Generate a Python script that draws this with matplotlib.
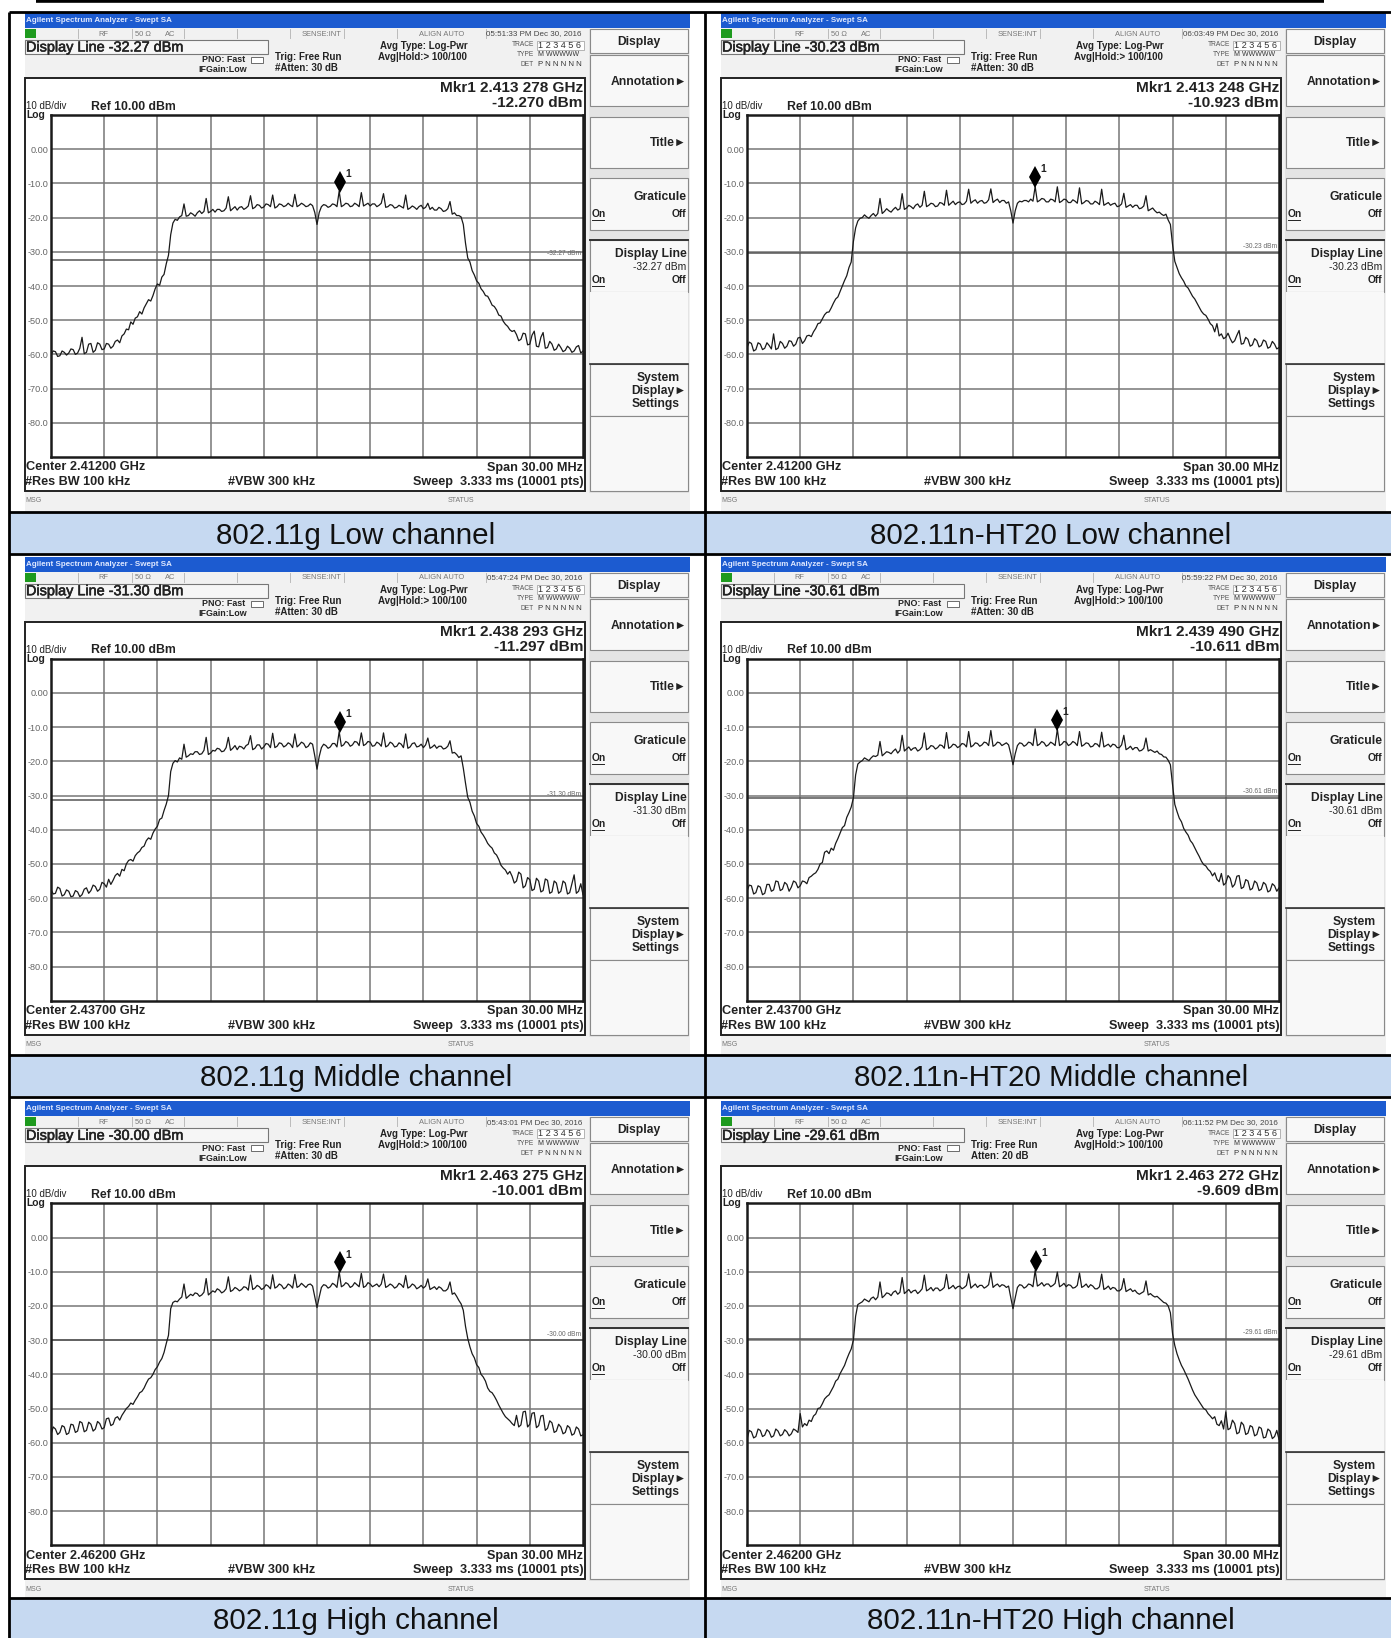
import matplotlib
matplotlib.use('Agg')
import matplotlib.pyplot as plt
import matplotlib.patches as patches
import matplotlib.patheffects as pe
import numpy as np

plt.rcParams['font.family'] = ['Liberation Sans', 'DejaVu Sans']

W, H = 1391, 1638

# six screenshots, order: g low, n low, g mid, n mid, g high, n high
captions = ['802.11g Low channel', '802.11n-HT20 Low channel',
            '802.11g Middle channel', '802.11n-HT20 Middle channel',
            '802.11g High channel', '802.11n-HT20 High channel']
timestamps = ['05:51:33 PM', '06:03:49 PM', '05:47:24 PM', '05:59:22 PM', '05:43:01 PM', '06:11:52 PM']
display_lines = [-32.27, -30.23, -31.30, -30.61, -30.00, -29.61]
center_ghz = [2.412, 2.412, 2.437, 2.437, 2.462, 2.462]
marker_ghz = [2.413278, 2.413248, 2.438293, 2.439490, 2.463275, 2.463272]
marker_dbm = [-12.270, -10.923, -11.297, -10.611, -10.001, -9.609]
attens = ['#Atten: 30 dB', '#Atten: 30 dB', '#Atten: 30 dB', '#Atten: 30 dB', '#Atten: 30 dB', 'Atten: 20 dB']

y_ticks = [0, -10, -20, -30, -40, -50, -60, -70, -80]
y_tick_labels = ['0.00', '-10.0', '-20.0', '-30.0', '-40.0', '-50.0', '-60.0', '-70.0', '-80.0']

# trace readings, one every 0.125 MHz from -15 to +15 MHz off centre
# (each row below covers 1.25 MHz)
offsets_mhz = np.arange(241) * 0.125 - 15

trace_g_low = [
    -60.0, -59.0, -59.2, -60.6, -60.4, -59.0, -59.4, -60.2, -59.6, -58.4,
    -58.6, -60.0, -59.6, -58.2, -55.0, -59.8, -59.4, -57.0, -56.8, -59.4,
    -58.8, -56.6, -57.0, -58.6, -58.4, -56.8, -57.0, -58.2, -57.6, -56.2,
    -55.8, -56.6, -54.6, -54.0, -52.6, -52.8, -50.5, -51.2, -49.4, -49.0,
    -47.5, -48.2, -46.4, -45.2, -44.0, -44.4, -42.8, -40.8, -39.4, -39.8,
    -37.4, -36.6, -33.5, -31.0, -25.0, -21.6, -20.5, -20.8, -19.8, -19.4,
    -16.0, -19.6, -19.4, -18.6, -19.0, -19.6, -18.6, -18.0, -18.8, -18.2,
    -14.4, -18.6, -18.2, -17.6, -18.4, -17.6, -17.6, -18.2, -18.0, -17.2,
    -13.9, -18.0, -17.4, -16.8, -17.8, -17.0, -16.8, -17.6, -17.2, -16.6,
    -13.6, -17.4, -17.0, -16.2, -16.4, -17.2, -16.9, -16.0, -16.2, -16.8,
    -13.4, -17.2, -16.8, -16.0, -16.2, -16.8, -16.5, -15.8, -16.4, -16.8,
    -13.2, -16.8, -16.4, -15.8, -16.2, -16.8, -16.6, -16.0, -16.5, -18.5,
    -22.0, -18.5, -16.8, -16.2, -16.4, -17.0, -16.7, -16.0, -16.2, -16.8,
    -12.27, -16.8, -16.4, -15.8, -16.0, -16.8, -16.6, -15.8, -16.2, -16.8,
    -12.7, -16.6, -16.2, -15.8, -16.6, -16.0, -16.0, -16.8, -16.4, -15.8,
    -13.0, -17.0, -16.8, -16.2, -16.4, -17.2, -17.0, -16.4, -16.8, -17.2,
    -13.4, -17.6, -17.2, -16.6, -17.0, -17.6, -16.8, -16.4, -17.4, -17.0,
    -15.8, -17.6, -17.0, -17.8, -17.8, -17.0, -17.4, -18.2, -18.0, -17.4,
    -15.3, -19.0, -18.6, -19.4, -19.4, -19.8, -22.0, -27.5, -31.8, -33.0,
    -35.5, -36.8, -38.5, -39.2, -40.8, -41.6, -42.8, -43.0, -44.2, -45.6,
    -46.0, -47.0, -48.5, -48.8, -50.3, -51.2, -51.8, -52.8, -53.3, -53.0,
    -54.2, -56.0, -55.6, -53.8, -54.0, -57.2, -57.0, -54.4, -53.2, -57.6,
    -57.8, -55.0, -53.6, -58.2, -58.0, -56.2, -57.0, -58.8, -58.4, -57.0,
    -58.0, -59.2, -58.8, -57.6, -58.2, -59.4, -59.0, -57.8, -57.4, -59.6,
    -59.0]
trace_n_low = [
    -58.0, -56.4, -56.8, -59.0, -58.6, -56.6, -57.0, -58.6, -58.2, -56.6,
    -57.4, -58.4, -54.0, -58.6, -58.2, -56.2, -56.8, -58.2, -57.6, -56.0,
    -56.2, -57.6, -57.0, -55.2, -55.0, -56.8, -56.0, -54.6, -54.4, -54.8,
    -53.4, -52.4, -51.0, -50.8, -49.6, -48.4, -47.7, -47.6, -46.4, -45.0,
    -43.8, -43.2, -41.6, -40.0, -38.4, -37.0, -34.6, -33.0, -27.0, -23.0,
    -21.0, -20.2, -20.0, -19.2, -19.8, -20.2, -19.4, -18.8, -19.6, -18.8,
    -14.4, -18.8, -18.2, -17.4, -18.0, -18.4, -17.6, -17.0, -17.8, -17.4,
    -13.0, -17.6, -17.2, -16.4, -16.8, -17.4, -16.4, -16.0, -17.0, -16.4,
    -12.3, -16.8, -16.4, -15.8, -16.0, -16.8, -16.6, -15.6, -15.8, -16.4,
    -12.0, -16.4, -15.8, -15.2, -16.2, -15.6, -15.4, -16.2, -16.0, -15.2,
    -11.7, -15.8, -15.2, -14.8, -15.8, -15.2, -15.0, -15.8, -15.6, -14.8,
    -11.6, -15.6, -15.0, -14.6, -15.6, -15.0, -15.0, -15.8, -15.4, -18.0,
    -21.6, -18.0, -15.8, -15.2, -15.4, -15.0, -15.0, -15.4, -14.6, -15.2,
    -10.92, -15.4, -15.0, -14.4, -14.6, -15.4, -15.4, -14.6, -14.8, -15.4,
    -11.0, -15.6, -15.2, -14.6, -14.8, -15.6, -15.6, -14.8, -15.2, -15.8,
    -11.3, -16.0, -15.6, -15.0, -15.2, -16.0, -16.0, -15.2, -15.6, -16.2,
    -11.7, -16.4, -16.0, -15.6, -16.4, -16.0, -15.8, -16.8, -16.6, -16.0,
    -12.9, -17.0, -16.6, -16.2, -17.0, -16.4, -16.4, -17.4, -17.2, -16.6,
    -13.6, -18.0, -17.6, -17.2, -18.0, -18.6, -18.4, -19.0, -19.4, -19.0,
    -20.7, -22.0, -28.0, -32.8, -34.6, -36.4, -37.6, -38.6, -40.0, -40.6,
    -41.8, -43.0, -43.8, -45.0, -46.2, -47.4, -48.2, -48.6, -49.7, -51.0,
    -51.6, -53.4, -51.0, -54.6, -54.0, -55.4, -55.0, -53.8, -55.4, -56.6,
    -56.0, -54.4, -53.0, -57.0, -56.8, -55.0, -55.6, -57.6, -57.2, -55.4,
    -56.0, -57.8, -57.4, -55.8, -56.2, -58.2, -57.8, -56.2, -57.0, -58.4,
    -58.0]
trace_g_mid = [
    -57.5, -58.8, -58.6, -56.8, -57.2, -59.4, -59.0, -57.6, -58.0, -59.6,
    -59.4, -57.8, -58.2, -59.6, -59.0, -57.4, -57.0, -58.6, -57.8, -56.2,
    -56.6, -58.0, -57.4, -55.4, -55.8, -56.8, -54.5, -56.0, -54.8, -53.4,
    -52.8, -53.6, -51.6, -52.0, -50.0, -49.0, -48.7, -49.2, -47.6, -46.8,
    -46.3, -45.2, -44.8, -43.2, -42.4, -42.8, -41.0, -39.8, -39.0, -37.0,
    -36.6, -34.4, -32.5, -30.0, -23.0, -20.6, -19.8, -20.2, -19.0, -19.4,
    -15.0, -18.8, -18.4, -17.8, -18.0, -17.2, -17.2, -18.0, -17.8, -16.8,
    -13.0, -18.0, -17.6, -16.8, -17.0, -16.2, -16.4, -17.2, -17.0, -16.0,
    -13.0, -16.8, -16.2, -15.4, -16.6, -15.6, -15.8, -16.4, -15.4, -15.0,
    -12.5, -16.6, -16.2, -15.2, -15.2, -16.4, -15.8, -14.8, -15.0, -16.0,
    -11.8, -16.0, -15.6, -14.6, -14.8, -15.8, -15.4, -14.6, -15.0, -16.0,
    -12.0, -15.8, -15.2, -14.4, -14.8, -16.0, -15.6, -14.6, -15.0, -18.4,
    -22.3, -18.6, -16.0, -15.0, -15.4, -16.2, -15.8, -14.8, -14.8, -15.8,
    -11.3, -15.6, -15.2, -14.2, -14.6, -15.6, -15.2, -14.2, -14.4, -15.4,
    -11.7, -15.4, -15.0, -14.2, -14.4, -15.6, -15.4, -14.4, -14.8, -15.6,
    -11.7, -15.8, -15.4, -14.4, -14.8, -15.8, -15.6, -14.6, -15.0, -16.0,
    -12.0, -16.2, -15.8, -14.8, -14.6, -15.8, -15.6, -15.0, -16.0, -15.2,
    -13.2, -16.2, -15.8, -15.2, -16.2, -15.6, -15.6, -16.4, -16.2, -15.6,
    -14.0, -17.6, -17.4, -18.0, -18.9, -18.4, -22.0, -26.4, -30.5, -32.0,
    -34.6, -36.0, -38.2, -39.0, -40.7, -41.6, -42.7, -44.0, -44.8, -45.4,
    -46.8, -47.4, -48.7, -50.4, -51.2, -51.8, -53.0, -52.2, -53.6, -55.6,
    -55.0, -52.4, -53.0, -57.0, -56.4, -54.0, -54.6, -57.8, -57.4, -54.2,
    -55.0, -58.2, -57.8, -54.4, -54.8, -58.6, -58.2, -55.0, -55.6, -58.6,
    -58.0, -55.0, -55.6, -58.8, -58.4, -55.8, -53.2, -58.6, -58.0, -55.8,
    -59.0]
trace_n_mid = [
    -58.0, -56.2, -56.4, -58.8, -58.4, -56.4, -56.8, -59.0, -58.6, -56.0,
    -56.0, -58.0, -57.6, -55.0, -55.2, -57.8, -57.4, -55.4, -56.0, -58.0,
    -56.8, -55.0, -55.4, -57.0, -56.4, -55.0, -55.2, -55.8, -54.0, -53.6,
    -53.0, -52.6, -51.6, -50.0, -49.6, -46.6, -46.2, -47.0, -45.4, -46.0,
    -44.0, -42.6, -41.0, -39.4, -38.8, -36.4, -35.0, -33.4, -30.7, -24.0,
    -20.8, -20.2, -19.8, -19.0, -19.4, -19.8, -19.0, -18.4, -18.6, -18.2,
    -14.2, -18.4, -17.8, -17.2, -17.4, -17.8, -17.0, -16.4, -17.6, -16.8,
    -12.4, -17.0, -16.4, -15.8, -16.8, -16.2, -16.0, -17.0, -16.6, -15.8,
    -11.7, -16.6, -16.2, -15.4, -15.6, -16.4, -16.0, -15.2, -15.4, -16.2,
    -11.6, -16.2, -15.8, -15.0, -15.2, -16.0, -15.6, -14.8, -15.0, -15.8,
    -11.3, -15.8, -15.4, -14.6, -14.8, -15.6, -15.2, -14.4, -14.6, -15.4,
    -11.0, -15.6, -15.2, -14.4, -14.6, -15.4, -15.0, -14.6, -15.2, -17.8,
    -21.0, -17.8, -15.4, -14.6, -14.8, -15.6, -15.2, -14.4, -14.6, -15.4,
    -10.5, -15.4, -15.0, -14.2, -14.6, -15.6, -15.2, -14.4, -14.8, -15.4,
    -10.61, -15.4, -15.0, -14.2, -14.4, -15.4, -15.0, -14.2, -14.6, -15.4,
    -11.3, -15.6, -15.2, -14.6, -14.8, -15.8, -15.6, -14.8, -15.0, -15.8,
    -11.5, -15.8, -15.4, -15.0, -15.8, -15.0, -15.2, -16.0, -16.0, -15.2,
    -12.4, -16.6, -16.2, -15.6, -16.6, -16.0, -16.0, -17.0, -16.8, -16.2,
    -13.2, -17.0, -16.6, -17.0, -17.4, -17.0, -17.8, -18.0, -18.7, -18.8,
    -19.7, -21.0, -27.0, -32.6, -34.7, -36.6, -37.7, -39.6, -40.7, -41.6,
    -43.2, -44.0, -45.3, -46.6, -47.8, -49.2, -50.2, -50.6, -51.6, -52.2,
    -53.5, -52.6, -54.5, -55.2, -52.8, -56.2, -55.6, -53.4, -54.2, -56.8,
    -56.0, -53.6, -53.4, -57.2, -56.8, -54.6, -55.0, -57.6, -57.2, -55.0,
    -55.6, -57.8, -57.4, -55.4, -56.0, -58.2, -57.8, -55.8, -56.4, -58.0,
    -57.0]
trace_g_high = [
    -57.6, -55.4, -56.0, -57.6, -57.0, -55.0, -55.4, -57.6, -57.2, -54.6,
    -54.8, -57.0, -56.6, -53.8, -54.2, -56.8, -56.4, -54.0, -54.6, -56.6,
    -56.0, -53.8, -54.4, -56.0, -55.6, -53.0, -52.8, -55.0, -54.6, -52.8,
    -52.4, -53.4, -52.0, -51.0, -50.0, -49.4, -48.4, -48.8, -47.6, -46.6,
    -45.4, -45.0, -44.0, -42.6, -41.4, -41.0, -40.0, -38.6, -37.8, -36.4,
    -35.4, -33.6, -31.0, -28.6, -20.8, -19.0, -18.6, -18.8, -18.0, -17.4,
    -13.6, -17.8, -17.2, -16.6, -17.0, -16.2, -16.4, -17.2, -16.8, -16.0,
    -12.0, -16.8, -16.2, -15.6, -16.0, -15.0, -15.4, -16.2, -15.8, -15.0,
    -11.5, -15.8, -15.4, -14.6, -15.0, -15.6, -15.2, -14.4, -14.6, -15.4,
    -11.0, -15.2, -14.8, -14.0, -14.4, -15.2, -14.8, -13.8, -14.2, -15.0,
    -10.9, -14.8, -14.4, -13.6, -14.0, -15.0, -14.6, -13.6, -14.0, -14.8,
    -10.8, -14.6, -14.2, -13.4, -14.0, -14.6, -13.8, -13.6, -14.2, -17.4,
    -20.5, -17.4, -14.6, -13.8, -14.0, -14.8, -14.4, -13.4, -13.8, -14.6,
    -10.0, -14.4, -14.0, -13.2, -13.6, -14.6, -14.2, -13.2, -13.8, -14.4,
    -10.5, -14.6, -14.2, -13.2, -13.6, -14.4, -14.0, -13.6, -14.4, -13.6,
    -10.7, -14.6, -14.2, -13.6, -14.0, -14.8, -14.4, -13.4, -13.8, -14.6,
    -11.1, -14.8, -14.4, -13.6, -14.0, -15.0, -14.6, -14.0, -14.8, -14.2,
    -12.1, -15.2, -14.8, -14.4, -15.2, -14.4, -14.8, -15.6, -15.6, -15.0,
    -13.0, -16.6, -16.2, -17.2, -18.4, -19.4, -21.3, -26.0, -29.5, -32.0,
    -34.0, -35.2, -37.2, -38.0, -40.0, -40.8, -42.0, -44.0, -45.0, -45.4,
    -46.4, -47.6, -49.0, -50.2, -51.4, -52.4, -53.0, -53.6, -54.4, -55.0,
    -52.0, -55.4, -54.8, -51.0, -50.8, -55.4, -54.6, -51.4, -51.2, -55.6,
    -55.0, -52.2, -52.0, -56.4, -55.8, -53.6, -54.2, -57.0, -56.6, -54.6,
    -55.4, -57.4, -57.0, -55.0, -55.6, -57.8, -57.4, -55.4, -56.0, -58.0,
    -57.7]
trace_n_high = [
    -59.0, -56.4, -56.8, -58.6, -58.2, -56.0, -56.4, -58.2, -57.8, -56.2,
    -56.8, -58.4, -58.0, -56.0, -56.6, -58.0, -57.6, -56.2, -56.8, -58.0,
    -57.4, -56.0, -56.4, -57.0, -51.5, -55.4, -54.4, -55.0, -53.4, -53.8,
    -52.2, -51.6, -50.0, -49.8, -48.6, -47.2, -46.5, -46.0, -44.8, -43.6,
    -42.0, -41.4, -39.8, -38.6, -37.4, -35.6, -34.0, -32.6, -30.0, -23.0,
    -19.6, -19.2, -18.8, -18.0, -18.4, -18.8, -17.8, -17.4, -18.2, -17.4,
    -13.0, -17.6, -17.0, -16.2, -16.4, -17.0, -16.0, -15.6, -16.6, -16.0,
    -11.7, -16.4, -15.8, -15.2, -16.2, -15.6, -15.4, -16.4, -15.8, -15.0,
    -11.0, -15.6, -15.2, -14.6, -15.6, -14.8, -14.8, -15.6, -15.2, -14.6,
    -10.8, -15.0, -14.6, -14.0, -15.0, -14.4, -14.2, -15.0, -14.6, -14.0,
    -10.6, -14.8, -14.2, -13.6, -14.6, -14.0, -14.0, -14.8, -14.4, -13.8,
    -10.2, -14.6, -14.0, -13.6, -14.4, -13.8, -14.0, -14.6, -14.2, -17.6,
    -20.8, -17.6, -14.6, -13.8, -14.0, -14.8, -14.4, -13.6, -13.8, -14.4,
    -9.61, -14.2, -13.8, -13.2, -14.2, -13.6, -13.6, -14.4, -14.0, -13.4,
    -10.1, -14.4, -14.0, -13.4, -14.4, -13.8, -14.0, -14.8, -14.6, -14.0,
    -10.4, -14.6, -14.2, -13.6, -14.6, -13.8, -14.2, -15.0, -15.0, -14.4,
    -10.7, -15.2, -14.8, -14.2, -15.2, -14.6, -14.8, -15.6, -15.6, -15.0,
    -12.0, -15.8, -15.4, -15.0, -15.8, -15.4, -16.2, -16.6, -16.2, -15.8,
    -12.7, -16.8, -16.4, -17.0, -17.4, -17.2, -17.8, -18.4, -19.0, -19.2,
    -20.0, -22.0, -28.2, -31.6, -34.0, -35.8, -37.4, -38.6, -40.0, -41.4,
    -43.0, -44.6, -46.0, -47.0, -48.0, -49.0, -50.0, -50.4, -51.5, -52.2,
    -53.0, -52.4, -54.6, -55.0, -53.6, -56.0, -51.0, -56.2, -55.8, -53.4,
    -54.4, -57.4, -57.0, -54.0, -54.8, -57.6, -57.2, -55.0, -55.4, -58.0,
    -57.6, -55.4, -55.8, -58.6, -58.4, -56.0, -56.6, -58.8, -58.2, -56.4,
    -59.0]
traces = [trace_g_low, trace_n_low, trace_g_mid, trace_n_mid, trace_g_high, trace_n_high]

col_dx = [0, 696]
row_dy = [0, 543.7, 1088.3]
band_tops = [512, 1055, 1598]
band_bottoms = [553, 1096, 1638]
divider_x = 705
left_x = 9


def rect(ax, x0, y0, x1, y1, fc, ec='none', lw=0, z=1):
    ax.add_patch(patches.Rectangle((x0, y0), x1 - x0, y1 - y0, facecolor=fc, edgecolor=ec, linewidth=lw, zorder=z))


def draw_softkeys(bg, dx, dy, level):
    key_fc = '#f8f8f8'
    rect(bg, 589 + dx, 29 + dy, 689 + dx, 493 + dy, '#e4e4e4', z=2)
    for top, bottom in [(29, 53), (55, 106), (117, 168), (178, 230), (240, 292), (364, 416), (416, 491)]:
        rect(bg, 590 + dx, top + dy, 688 + dx, bottom + dy, key_fc, ec='#8a8a8a', lw=0.8, z=3)
    rect(bg, 590 + dx, 292 + dy, 688 + dx, 364 + dy, key_fc, z=3)
    bg.plot([590 + dx, 688 + dx], [240 + dy] * 2, color='#333333', lw=1.4, zorder=4)
    bg.plot([590 + dx, 688 + dx], [364 + dy] * 2, color='#333333', lw=1.2, zorder=4)
    kw = dict(fontsize=8.7, fontweight='bold', color='#222222', va='center', zorder=5)
    bg.text(639 + dx, 42 + dy, 'Display', ha='center', **kw)
    bg.text(687 + dx, 82 + dy, 'Annotation\u25ba', ha='right', **kw)
    bg.text(687 + dx, 143 + dy, 'Title\u25ba', ha='right', **kw)
    bg.text(687 + dx, 197 + dy, 'Graticule', ha='right', **kw)
    bg.text(687 + dx, 254 + dy, 'Display Line', ha='right', **kw)
    bg.text(680 + dx, 378 + dy, 'System', ha='right', **kw)
    bg.text(686 + dx, 391 + dy, 'Display\u25ba', ha='right', **kw)
    bg.text(680 + dx, 404 + dy, 'Settings', ha='right', **kw)
    small = dict(fontsize=7.4, color='#222222', va='center', zorder=5)
    bg.text(686 + dx, 267 + dy, f'{level:.2f} dBm', ha='right', **small)
    for yy in (214, 280):
        bg.text(592 + dx, yy + dy, 'On', ha='left', fontweight='bold', **small)
        bg.text(686 + dx, yy + dy, 'Off', ha='right', fontweight='bold', **small)
        bg.plot([592 + dx, 604 + dx], [yy + 6 + dy] * 2, color='#222222', lw=0.7, zorder=5)


def draw_chrome(bg, i, dx, dy):
    level = display_lines[i]
    rect(bg, 24.5 + dx, 13 + dy, 690 + dx, 511 + dy, '#f1f1f1', z=1)
    rect(bg, 24.5 + dx, 13 + dy, 690 + dx, 28 + dy, '#1c5bd0', z=2)
    bg.text(26 + dx, 20.5 + dy, 'Agilent Spectrum Analyzer - Swept SA', fontsize=5.8, fontweight='bold',
            color='#dfe8ff', va='center', zorder=3)

    # status strip
    rect(bg, 25 + dx, 29 + dy, 36 + dx, 38 + dy, '#1e9a1e', z=3)
    grey = dict(fontsize=5.4, color='#777777', va='center', ha='center', zorder=3)
    for x_txt, s in [(103, 'RF'), (143, '50 \u03a9'), (170, 'AC'), (322, 'SENSE:INT'), (442, 'ALIGN AUTO')]:
        bg.text(x_txt + dx, 34 + dy, s, **grey)
    for x_sep in (78, 132, 184, 237, 290, 344, 397, 486):
        bg.plot([x_sep + dx] * 2, [29 + dy, 38 + dy], color='#bbbbbb', lw=0.7, zorder=3)
    bg.text(582 + dx, 34 + dy, f'{timestamps[i]} Dec 30, 2016', fontsize=5.8, color='#444444', va='center', ha='right', zorder=3)

    # measure bar
    rect(bg, 25 + dx, 40 + dy, 268 + dx, 54 + dy, '#f6f6f6', ec='#777777', lw=0.8, z=3)
    t = bg.text(26 + dx, 47.5 + dy, f'Display Line {level:.2f} dBm', fontsize=10.4, color='#222222', va='center', zorder=4)
    t.set_path_effects([pe.withStroke(linewidth=0.4, foreground='#222222')])
    kw = dict(fontsize=6.4, fontweight='bold', color='#222222', va='center', zorder=4)
    bg.text(202 + dx, 60 + dy, 'PNO: Fast', **kw)
    bg.text(198 + dx, 70 + dy, 'IFGain:Low', **kw)
    rect(bg, 251 + dx, 57 + dy, 263 + dx, 63 + dy, '#ffffff', ec='#555555', lw=0.6, z=4)
    bg.text(275 + dx, 57 + dy, 'Trig: Free Run', fontsize=7, fontweight='bold', color='#222222', va='center', zorder=4)
    bg.text(275 + dx, 68 + dy, attens[i], fontsize=7, fontweight='bold', color='#222222', va='center', zorder=4)
    bg.text(380 + dx, 46 + dy, 'Avg Type: Log-Pwr', fontsize=7, fontweight='bold', color='#222222', va='center', zorder=4)
    bg.text(378 + dx, 57 + dy, 'Avg|Hold:> 100/100', fontsize=7, fontweight='bold', color='#222222', va='center', zorder=4)
    tiny = dict(fontsize=4.8, color='#555555', va='center', ha='right', zorder=4)
    bg.text(534 + dx, 45 + dy, 'TRACE', **tiny)
    bg.text(534 + dx, 55 + dy, 'TYPE', **tiny)
    bg.text(534 + dx, 65 + dy, 'DET', **tiny)
    rect(bg, 537 + dx, 41 + dy, 584 + dx, 50 + dy, '#ffffff', ec='#999999', lw=0.5, z=3)
    bg.text(538 + dx, 45.5 + dy, '1 2 3 4 5 6', fontsize=6.6, color='#333333', va='center', zorder=4)
    bg.text(538 + dx, 55 + dy, 'M WWWWW', fontsize=5, color='#333333', va='center', zorder=4)
    bg.text(538 + dx, 65 + dy, 'P N N N N N', fontsize=5.6, color='#333333', va='center', zorder=4)

    # white display area around the graticule
    rect(bg, 25 + dx, 78 + dy, 585 + dx, 491 + dy, '#ffffff', ec='#222222', lw=1.4, z=2)
    hdr = dict(color='#222222', va='center', zorder=4)
    bg.text(583 + dx, 88 + dy, f'Mkr1 {marker_ghz[i]:.3f} {int(round(marker_ghz[i] * 1e6)) % 1000:03d} GHz', ha='right',
            fontsize=11.1, fontweight='bold', **hdr)
    bg.text(583 + dx, 103 + dy, f'{marker_dbm[i]:.3f} dBm', ha='right', fontsize=11.1, fontweight='bold', **hdr)
    bg.text(26 + dx, 106 + dy, '10 dB/div', fontsize=7, **hdr)
    bg.text(91 + dx, 106.5 + dy, 'Ref 10.00 dBm', fontsize=8.8, fontweight='bold', **hdr)
    bg.text(26 + dx, 115 + dy, 'Log', fontsize=7.4, fontweight='bold', **hdr)
    bg.text(26 + dx, 467.5 + dy, f'Center {center_ghz[i]:.5f} GHz', fontsize=9.2, fontweight='bold', **hdr)
    bg.text(25 + dx, 482 + dy, '#Res BW 100 kHz', fontsize=9.1, fontweight='bold', **hdr)
    bg.text(228 + dx, 482 + dy, '#VBW 300 kHz', fontsize=9.1, fontweight='bold', **hdr)
    bg.text(583 + dx, 467.5 + dy, 'Span 30.00 MHz', ha='right', fontsize=9.1, fontweight='bold', **hdr)
    bg.text(584 + dx, 482 + dy, 'Sweep  3.333 ms (10001 pts)', ha='right', fontsize=9.1, fontweight='bold', **hdr)

    # message strip
    bg.text(25 + dx, 501 + dy, 'MSG', fontsize=5, color='#777777', va='center', zorder=3)
    bg.text(461 + dx, 501 + dy, 'STATUS', fontsize=5, color='#777777', va='center', ha='center', zorder=3)
    draw_softkeys(bg, dx, dy, level)


def draw_plot(fig, i, dx, dy):
    left, right = 51 + dx, 583 + dx
    top, bottom = 115 + dy, 457 + dy
    ax = fig.add_axes([left / W, 1 - bottom / H, (right - left) / W, (bottom - top) / H], zorder=5)
    ax.set_xlim(-15, 15)
    ax.set_ylim(-90, 10)
    ax.set_xticks(np.arange(-12, 13, 3))
    ax.set_xticklabels([])
    ax.set_yticks(y_ticks)
    ax.set_yticklabels(y_tick_labels, fontsize=6.6, color='#666666')
    ax.tick_params(length=0, pad=2)
    ax.grid(True, color='#777777', lw=1.1)
    ax.set_axisbelow(True)
    for sp in ax.spines.values():
        sp.set_linewidth(1.8)
        sp.set_color('#1a1a1a')

    level = display_lines[i]
    ax.axhline(level, color='#555555', lw=1.1, zorder=2)
    ax.text(14.9, level + 0.7, f'{level:.2f} dBm', fontsize=4.8, color='#666666', ha='right', va='bottom')
    ax.plot(offsets_mhz, traces[i], color='#1a1a1a', lw=0.9, zorder=3)

    mkr_x = (marker_ghz[i] - center_ghz[i]) * 1000
    ax.plot([mkr_x], [marker_dbm[i] + 2.7], marker='d', ms=11, color='black', mew=0, zorder=4)
    ax.text(mkr_x + 0.3, marker_dbm[i] + 5.0, '1', fontsize=7.4, fontweight='bold', color='#222222', va='center')


def main():
    fig = plt.figure(figsize=(W / 100, H / 100), dpi=100)
    bg = fig.add_axes([0, 0, 1, 1], zorder=1)
    bg.set_xlim(0, W)
    bg.set_ylim(H, 0)
    bg.axis('off')

    for i in range(6):
        row, col = divmod(i, 2)
        dx, dy = col_dx[col], row_dy[row]
        draw_chrome(bg, i, dx, dy)
        draw_plot(fig, i, dx, dy)
        cx = 356 if col == 0 else 1051
        x0 = left_x if col == 0 else divider_x
        x1 = divider_x if col == 0 else W
        rect(bg, x0, band_tops[row], x1, band_bottoms[row], '#c6d9f1', z=6)
        bg.text(cx, (band_tops[row] + band_bottoms[row]) / 2 + 3, captions[i], fontsize=21.3, color='#111111',
                ha='center', va='center', zorder=7)

    # table rules
    line = dict(color='black', lw=2, zorder=8, solid_capstyle='butt')
    bg.plot([36, 1324], [1, 1], color='black', lw=2.6, zorder=8, solid_capstyle='butt')
    bg.plot([left_x, W], [12, 12], **line)
    for yy in (511.5, 553.5, 1054.5, 1096.5, 1597.5):
        bg.plot([left_x, W], [yy, yy], **line)
    bg.plot([left_x, left_x], [12, H], **line)
    bg.plot([divider_x, divider_x], [12, H], **line)

    fig.savefig('out.png', dpi=100)


if __name__ == "__main__":
    main()
